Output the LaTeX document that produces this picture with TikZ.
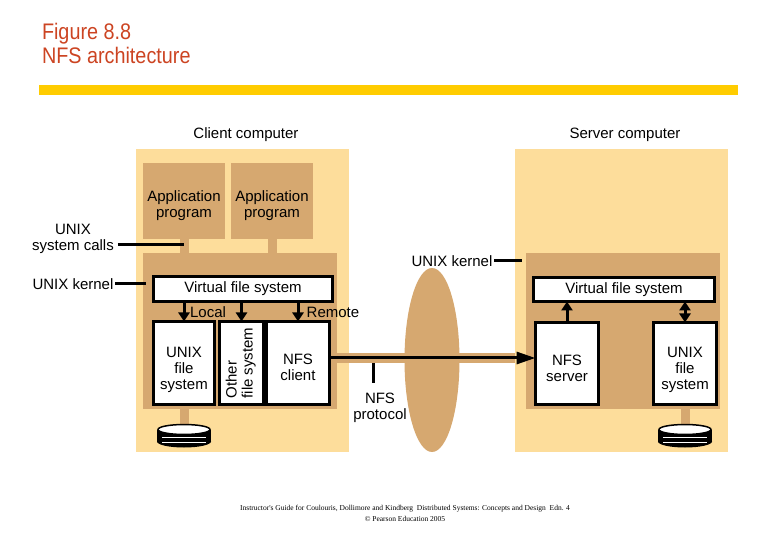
\documentclass[tikz,border=0pt]{standalone}
\usepackage{fontspec}
\setmainfont{Liberation Sans}
\newfontfamily\titlefont[FakeStretch=0.88]{Liberation Sans}
\newfontfamily\notefont{Liberation Serif}
\usetikzlibrary{shapes.geometric, arrows.meta, positioning, calc}
\definecolor{machinefill}{RGB}{253,221,155}
\definecolor{kernelfill}{RGB}{214,168,112}
\definecolor{titlered}{RGB}{204,68,34}
\definecolor{baryellow}{RGB}{255,204,0}
\newcommand{\diagfont}{\fontsize{15}{16}\selectfont}
\newcommand{\droptwo}{\rule{0pt}{19.5pt}}
\newcommand{\dropthree}{\rule{0pt}{23.5pt}}

\begin{document}
\begin{tikzpicture}[x=1pt, y=-1pt,
  every node/.style={inner sep=0pt, outer sep=0pt},
  >={Triangle[length=9pt, width=11pt]},
  headline/.style={anchor=base west, text=titlered, font=\titlefont\fontsize{22.5}{24}\selectfont},
  machine/.style={fill=machinefill, minimum width=213pt, minimum height=303pt},
  kernel/.style={fill=kernelfill, minimum width=194pt, minimum height=156pt},
  appbox/.style={fill=kernelfill, minimum width=82pt, minimum height=76pt, align=center, font=\diagfont},
  fsbox/.style={draw, line width=3pt, fill=white, align=center, font=\diagfont},
  lbl/.style={align=center, font=\diagfont},
  stem/.style={draw=kernelfill, line width=9pt},
  tick/.style={line width=3pt},
  callarrow/.style={line width=3pt, ->},
]
\useasboundingbox (0,0) rectangle (780,540);

% heading
\node[headline] (fignum) at (42,40) {Figure 8.8};
\node[headline] (figname) at (42,64) {NFS architecture};
\node[fill=baryellow, minimum width=699pt, minimum height=10pt, anchor=north west] (bar) at (39,85) {};

% the two machines and the network
\node[lbl] (clientlbl) at (246,135) {Client computer};
\node[lbl] (serverlbl) at (625,135) {Server computer};
\node[machine] (client) at (242,300.5) {};
\node[machine] (server) at (621.5,300.5) {};
\node[ellipse, fill=kernelfill, minimum width=55pt, minimum height=184pt] (net) at (432,360) {};

\node[kernel] (ckernel) at (240,331) {};
\node[kernel] (skernel) at (622.5,331) {};

% client side
\node[appbox] (capp1) at (184,201) {\droptwo Application\\program};
\node[appbox, right=6pt of capp1] (capp2) {\droptwo Application\\program};
\draw[stem] (capp1.south) -- (capp1.south |- ckernel.north);
\draw[stem] (capp2.south) -- (capp2.south |- ckernel.north);

\node[fsbox, minimum width=179pt, minimum height=25pt] (cvfs) at (243,289) {Virtual file system};
\node[fsbox, minimum width=61pt, minimum height=83pt] (cufs) at (184,363) {\dropthree UNIX\\file\\system};
\node[fsbox, minimum width=44pt, minimum height=83pt, right=5pt of cufs] (cother)
  {\rotatebox{90}{\begin{tabular}{@{}l@{}}Other\\file system\end{tabular}}};
\node[fsbox, minimum width=63pt, minimum height=83pt, right=3pt of cother] (cnfs) {\droptwo NFS\\client};
\foreach \fs in {cufs,cother,cnfs}
  \draw[callarrow] (cvfs.south -| \fs.north) -- (\fs.north);
\node[lbl] (locallbl) at (208,312) {Local};
\node[lbl] (remotelbl) at (333,312) {Remote};

% server side
\node[fsbox, minimum width=181pt, minimum height=24pt] (svfs) at (624,289.5) {Virtual file system};
\node[fsbox, minimum width=63pt, minimum height=82pt] (snfs) at (567,363.5) {\droptwo NFS\\server};
\node[fsbox, minimum width=63pt, minimum height=82pt] (sufs) at (685,363.5) {\dropthree UNIX\\file\\system};
\draw[callarrow] (snfs.north) -- (snfs.north |- svfs.south);
\draw[callarrow, <->] (sufs.north) -- (sufs.north |- svfs.south);

% NFS protocol
\coordinate (cnfsport) at ([yshift=5pt]cnfs.east);
\draw[stem, line width=10pt, shorten <=1.5pt] (cnfsport) -- (cnfsport -| server.west);
\draw[line width=3pt, -{Triangle[length=19pt, width=12pt]}] (cnfsport) -- (cnfsport -| snfs.west);
\node[lbl] (protolbl) at (380,408) {NFS\\protocol};
\coordinate (prototick) at (373,363);
\draw[tick, shorten >=10pt] (prototick) -- (prototick |- protolbl.north);

% side labels
\node[lbl] (syscalls) at (73,239) {UNIX\\system calls};
\coordinate (callpoint) at (184,245);
\draw[tick, shorten <=4pt] (callpoint -| syscalls.east) -- (callpoint);
\node[lbl] (ckernellbl) at (73,284) {UNIX kernel};
\draw[tick, shorten <=2pt] (ckernellbl.east) -- ([xshift=3pt]ckernellbl.east -| ckernel.west);
\node[lbl] (skernellbl) at (452,261) {UNIX kernel};
\draw[tick, shorten <=2pt] (skernellbl.east) -- ([xshift=-4pt]skernellbl.east -| skernel.west);

% disks
\foreach \fs in {cufs,sufs} {
  \draw[stem] ([yshift=-1.5pt]\fs.south) -- ++(0,21);
  \begin{scope}[shift={(\fs.south)}]
    \fill (-27,25) rectangle (27,37);
    \fill (0,37) ellipse [x radius=27pt, y radius=6pt];
    \filldraw[fill=white, line width=1.5pt] (0,25) ellipse [x radius=26pt, y radius=5pt];
    \draw[white, line width=0.6pt] (-22,33) -- (22,33) (-22,37.5) -- (22,37.5);
  \end{scope}
}

\node[font=\notefont\fontsize{7.5}{11}\selectfont, align=center] (credit) at (405,513)
  {Instructor's Guide for Coulouris, Dollimore and Kindberg \ Distributed Systems: Concepts and Design \ Edn. 4\\\copyright\ Pearson Education 2005};
\end{tikzpicture}
\end{document}
